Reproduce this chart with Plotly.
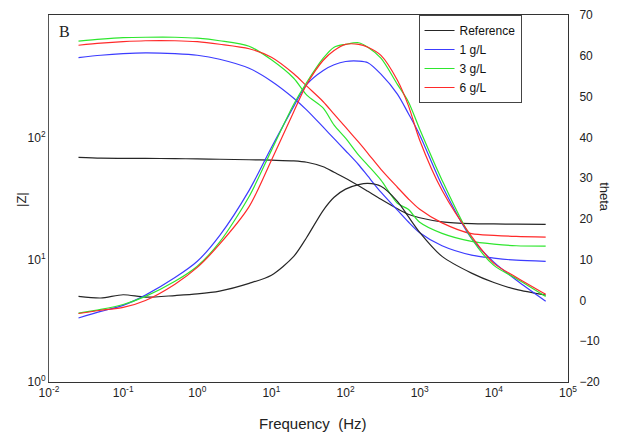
import plotly.graph_objects as go

freq = [0.025, 0.05, 0.1, 0.2, 0.5, 1, 2, 5, 10, 20, 30, 50, 70, 100, 150, 200,
        300, 500, 700, 1000, 2000, 5000, 10000, 20000, 50000]

ref_z = [68.5, 67.5, 67.3, 67.2, 67.0, 66.6, 66.2, 65.6, 65.0, 64.2, 62.6, 57.5, 51.8,
         46.3, 40.2, 36.2, 31.2, 26.1, 23.5, 22.0, 20.4, 19.7, 19.6, 19.5, 19.4]
ref_theta = [1.0, 0.6, 1.4, 0.8, 1.2, 1.6, 2.3, 4.2, 6.2, 10.8, 15.5, 22.1, 25.3,
             27.3, 28.4, 28.7, 28.0, 24.3, 20.6, 16.7, 10.8, 6.7, 4.4, 2.7, 1.3]

g1_z = [449, 469, 483, 490, 483, 469, 435, 367, 288, 209, 167, 121, 97.5,
        77.7, 59.7, 48.1, 35.6, 25.4, 20.4, 16.6, 13.0, 10.9, 10.3, 9.9, 9.7]
g1_theta = [-4.3, -2.7, -1.2, 1.3, 5.6, 9.6, 15.9, 27.0, 37.5, 47.6, 53.0, 56.4, 57.8,
            58.6, 58.7, 58.3, 55.5, 50.6, 45.9, 40.6, 28.2, 15.2, 9.4, 5.0, -0.2]

g3_z = [611, 634, 652, 658, 658, 646, 616, 556, 430, 304, 221, 173, 125.6,
        98.4, 71.4, 59.1, 44.7, 28.9, 25.8, 20.2, 16.4, 14.1, 13.4, 13.0, 12.9]
g3_theta = [-3.1, -2.2, -1.0, 1.0, 4.7, 8.4, 14.3, 25.5, 36.8, 48.1, 53.5, 59.4, 62.1,
            62.8, 63.2, 62.1, 59.4, 53.0, 48.8, 42.0, 29.5, 15.2, 8.6, 5.4, 1.0]

g6_z = [566, 588, 605, 616, 616, 605, 577, 530, 452, 331, 262, 195.5, 154.5,
        121, 91.2, 74.1, 54.8, 39.1, 31.5, 25.8, 20.0, 16.3, 15.8, 15.5, 15.3]
g6_theta = [-3.2, -2.4, -1.7, 0.0, 4.0, 8.1, 13.8, 23.0, 34.4, 46.3, 53.0, 58.9, 61.3,
            62.8, 62.8, 62.1, 60.1, 54.0, 47.9, 39.3, 27.0, 15.7, 9.1, 5.7, 1.5]

series_names = ["Reference", "1 g/L", "3 g/L", "6 g/L"]
x_tickvals = [1e-2, 1e-1, 1e0, 1e1, 1e2, 1e3, 1e4, 1e5]
x_ticktext = ["10<sup>-2</sup>", "10<sup>-1</sup>", "10<sup>0</sup>", "10<sup>1</sup>",
              "10<sup>2</sup>", "10<sup>3</sup>", "10<sup>4</sup>", "10<sup>5</sup>"]
y_tickvals = [1, 10, 100, 1000]
y_ticktext = ["10<sup>0</sup>", "10<sup>1</sup>", "10<sup>2</sup>", "10<sup>3</sup>"]
y2_tickvals = [-20, -10, 0, 10, 20, 30, 40, 50, 60, 70]

colors = ["#262626", "#3c3cff", "#2ee62e", "#ff2a2a"]
zs = [ref_z, g1_z, g3_z, g6_z]
ths = [ref_theta, g1_theta, g3_theta, g6_theta]

fig = go.Figure()
for name, c, z, th in zip(series_names, colors, zs, ths):
    fig.add_trace(go.Scatter(x=freq, y=z, mode="lines", name=name, legendgroup=name,
                             line=dict(color=c, width=1.2, shape="spline", smoothing=0.8)))
    fig.add_trace(go.Scatter(x=freq, y=th, mode="lines", name=name, legendgroup=name,
                             showlegend=False, yaxis="y2",
                             line=dict(color=c, width=1.2, shape="spline", smoothing=0.8)))

font = "Liberation Sans, Arial, sans-serif"
fig.update_layout(
    width=622, height=432,
    margin=dict(l=41, r=62, t=7, b=58, autoexpand=False),
    paper_bgcolor="white", plot_bgcolor="white",
    font=dict(family=font, size=12, color="#222"),
    showlegend=True,
    legend=dict(x=0.712, y=1.0, xanchor="left", yanchor="top",
                bgcolor="white", bordercolor="#444", borderwidth=1,
                font=dict(size=12, family=font, color="#111"),
                itemwidth=30, tracegroupgap=0),
    xaxis=dict(type="log", range=[-2, 5], tickvals=x_tickvals, ticktext=x_ticktext,
               showgrid=False, zeroline=False, showline=True, linecolor="#333",
               linewidth=1, mirror=True, ticks="", tickfont=dict(size=12),
               automargin=False),
    yaxis=dict(type="log", range=[0, 3], tickvals=y_tickvals, ticktext=y_ticktext,
               showgrid=False, zeroline=False, showline=True, linecolor="#555",
               linewidth=1, ticks="", tickfont=dict(size=12), automargin=False),
    yaxis2=dict(overlaying="y", side="right", range=[-20, 70], tickvals=y2_tickvals,
                showgrid=False, zeroline=False, showline=True, linecolor="#333",
                linewidth=1, ticks="", ticklabelstandoff=8, tickfont=dict(size=12),
                automargin=False),
    annotations=[
        dict(text="B", x=0.03, y=0.955, xref="paper", yref="paper", showarrow=False,
             xanchor="center", yanchor="middle",
             font=dict(family="Liberation Serif, Times New Roman, serif", size=16, color="#222")),
        dict(text="|Z|", x=-0.052, y=0.496, xref="paper", yref="paper", showarrow=False,
             textangle=-90, xanchor="center", yanchor="middle", font=dict(size=13)),
        dict(text="theta", x=1.071, y=0.504, xref="paper", yref="paper", showarrow=False,
             textangle=90, xanchor="center", yanchor="middle", font=dict(size=13)),
        dict(text="Frequency\u00a0\u00a0(Hz)", x=0.509, y=-0.112, xref="paper", yref="paper",
             showarrow=False, xanchor="center", yanchor="middle", font=dict(size=15)),
    ],
)

fig.write_html("out.html")
